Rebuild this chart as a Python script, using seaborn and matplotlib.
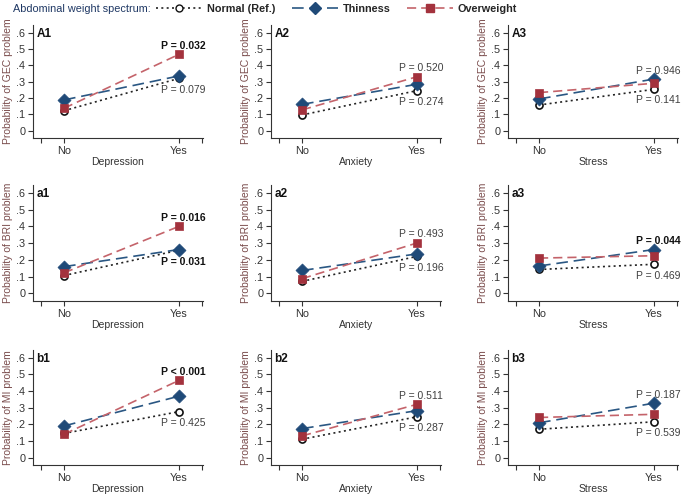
import numpy as np
import pandas as pd
import matplotlib
matplotlib.use("Agg")
import matplotlib.pyplot as plt
import seaborn as sns
from matplotlib.lines import Line2D

# values (rows: GEC, BRI, MI; cols: Depression, Anxiety, Stress)
outcomes = ["GEC", "BRI", "MI"]
exposures = ["Depression", "Anxiety", "Stress"]
panel_tags = [["A1", "A2", "A3"], ["a1", "a2", "a3"], ["b1", "b2", "b3"]]
groups = ["Normal (Ref.)", "Thinness", "Overweight"]
levels = ["No", "Yes"]

normal_no = [[0.122, 0.096, 0.157], [0.107, 0.072, 0.143], [0.145, 0.110, 0.170]]
normal_yes = [[0.320, 0.245, 0.253], [0.258, 0.221, 0.174], [0.276, 0.245, 0.215]]
thin_no = [[0.188, 0.161, 0.194], [0.160, 0.137, 0.164], [0.190, 0.174, 0.209]]
thin_yes = [[0.335, 0.284, 0.316], [0.262, 0.236, 0.262], [0.369, 0.282, 0.327]]
over_no = [[0.137, 0.127, 0.233], [0.123, 0.088, 0.211], [0.140, 0.130, 0.241]]
over_yes = [[0.467, 0.330, 0.290], [0.400, 0.301, 0.225], [0.464, 0.320, 0.260]]

p_upper = [["P = 0.032", "P = 0.520", "P = 0.946"],
           ["P = 0.016", "P = 0.493", "P = 0.044"],
           ["P < 0.001", "P = 0.511", "P = 0.187"]]
p_upper_bold = [[True, False, False], [True, False, True], [True, False, False]]
p_lower = [["P = 0.079", "P = 0.274", "P = 0.141"],
           ["P = 0.031", "P = 0.196", "P = 0.469"],
           ["P = 0.425", "P = 0.287", "P = 0.539"]]
p_lower_bold = [[False, False, False], [True, False, False], [False, False, False]]

y_ticks = [0, 0.1, 0.2, 0.3, 0.4, 0.5, 0.6]
y_ticklabels = ["0", ".1", ".2", ".3", ".4", ".5", ".6"]

sns.set_style("ticks")
plt.rcParams["font.family"] = ["Liberation Sans", "DejaVu Sans"]

line_cols = {"Normal (Ref.)": "#222222", "Thinness": "#2a5783", "Overweight": "#c4636a"}
mark_cols = {"Normal (Ref.)": "#111111", "Thinness": "#1f4a78", "Overweight": "#a3323d"}
dash_map = {"Normal (Ref.)": (1.2, 2.0), "Thinness": (7, 3.5), "Overweight": (5.5, 3)}
marker_map = {"Normal (Ref.)": "o", "Thinness": "D", "Overweight": "s"}

fig = plt.figure(figsize=(6.85, 4.94), dpi=100)
W, H = 685.0, 494.0
lefts = [33, 271, 508]
tops = [25, 185, 350]
bottoms = [138, 301, 465]
width = 170

for r in range(3):
    for c in range(3):
        ax = fig.add_axes([lefts[c] / W, 1 - bottoms[r] / H, width / W, (bottoms[r] - tops[r]) / H])
        df = pd.DataFrame({
            "x": [0, 1] * 3,
            "level": levels * 3,
            "group": [g for g in groups for _ in range(2)],
            "p": [normal_no[r][c], normal_yes[r][c], thin_no[r][c], thin_yes[r][c],
                  over_no[r][c], over_yes[r][c]],
        })
        sns.lineplot(data=df, x="x", y="p", hue="group", style="group", palette=line_cols,
                     dashes=dash_map, linewidth=1.2, ax=ax, legend=False)
        for g in groups:
            sub = df[df["group"] == g]
            if g == "Normal (Ref.)":
                ax.scatter(sub["x"], sub["p"], marker="o", s=26, facecolor="white",
                           edgecolor=mark_cols[g], linewidth=1.2, zorder=3)
            else:
                sns.scatterplot(data=sub, x="x", y="p", marker=marker_map[g],
                                color=mark_cols[g], s=44 if g == "Thinness" else 36,
                                edgecolor=mark_cols[g], linewidth=0.5, ax=ax, zorder=4,
                                legend=False)

        yes_vals = df[df["x"] == 1]["p"]
        ax.text(1.035, yes_vals.max() + 0.052, p_upper[r][c], ha="center", va="center",
                fontsize=7.5, fontweight="bold" if p_upper_bold[r][c] else "normal",
                color="#111111" if p_upper_bold[r][c] else "#404040")
        ax.text(1.035, yes_vals.min() - 0.068, p_lower[r][c], ha="center", va="center",
                fontsize=7.5, fontweight="bold" if p_lower_bold[r][c] else "normal",
                color="#111111" if p_lower_bold[r][c] else "#404040")

        ax.text(0.02, 0.97, panel_tags[r][c], transform=ax.transAxes, ha="left", va="top",
                fontsize=8.5, fontweight="bold", color="#111111")

        ax.set_xlim(-0.27, 1.21)
        ax.set_ylim(-0.045, 0.647)
        ax.set_xticks([-0.2, 0, 1, 1.2])
        ax.set_xticklabels(["", "No", "Yes", ""])
        ax.set_yticks(y_ticks)
        ax.set_yticklabels(y_ticklabels)
        ax.tick_params(axis="both", labelsize=7.8, colors="#333333", length=3.5, width=0.8, pad=2)
        ax.set_xlabel(exposures[c], fontsize=7.5, color="#333333", labelpad=1)
        ax.set_ylabel("Probability of %s problem" % outcomes[r], fontsize=7.5,
                      color="#7a4c4c", labelpad=2)
        for s in ["top", "right"]:
            ax.spines[s].set_visible(False)
        for s in ["left", "bottom"]:
            ax.spines[s].set_color("#333333")
            ax.spines[s].set_linewidth(0.8)

# legend strip on top
fig.text(13 / W, 1 - 9 / H, "Abdominal weight spectrum:", fontsize=7.8, color="#1f3864",
         va="center", ha="left")
handles = []
for g in groups:
    if g == "Normal (Ref.)":
        h = Line2D([], [], color=line_cols[g], linestyle=(0, dash_map[g]), linewidth=1.2,
                   marker="o", markerfacecolor="white", markeredgecolor=mark_cols[g], markersize=5)
    else:
        h = Line2D([], [], color=line_cols[g], linestyle=(0, dash_map[g]), linewidth=1.2,
                   marker=marker_map[g], markerfacecolor=mark_cols[g],
                   markeredgecolor=mark_cols[g], markersize=6)
    handles.append(h)
leg = fig.legend(handles, groups, loc="center left", bbox_to_anchor=(156 / W, 1 - 9 / H),
                 ncol=3, frameon=False, handlelength=4.3, handletextpad=0.4,
                 columnspacing=1.5, prop={"size": 7.8, "weight": "bold"}, borderaxespad=0,
                 borderpad=0)

fig.savefig("out.png", dpi=100)
